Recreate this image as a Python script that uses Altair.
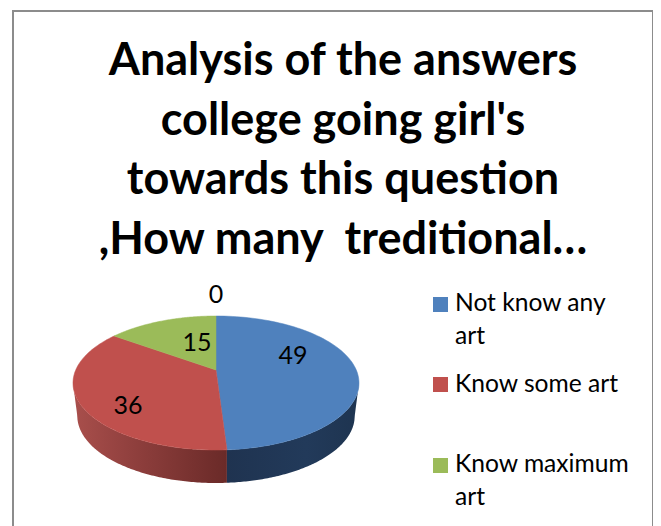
import numpy as np
import pandas as pd
import altair as alt

categories = ["Not know any art", "Know some art", "Know maximum art"]
values = [49, 36, 15]
colors = ["#4f81bd", "#c0504d", "#9bbb59"]
title_lines = ["Analysis of the answers", "college going girl's",
               "towards this question", ",How many\u00a0 treditional\u2026"]
value_labels = ["49", "36", "15", "0"]
label_px = [293, 128, 197, 216]
label_py = [356, 406, 343, 295]
legend_lines = ["Not know any", "art", "Know some art", "Know maximum", "art"]
legend_line_y = [304, 337, 385, 465, 498]
swatch_y = [304.5, 384.5, 465.5]

OX, OY = 13, 11        # page position of the frame
W, H = 640, 516
CX, CY, RX, RY = 216 - OX, 383 - OY, 143, 67
TILT = 0.194           # perspective: how far the pie's centre sits above the ellipse's
DEPTH = 33

xs = alt.Scale(domain=[0, W], range=[0, W])
ys = alt.Scale(domain=[0, H], range=[0, H])
X = lambda f="x": alt.X(f"{f}:Q", scale=xs, axis=None)
Y = lambda f="y": alt.Y(f"{f}:Q", scale=ys, axis=None)


def project(theta, drop=0.0, shrink=1.0):
    sx, sy = np.sin(theta), np.cos(theta)
    d = 1 + TILT * sy
    u = sx * np.sqrt(1 - TILT ** 2) / d
    v = (sy + TILT) / d
    return CX + RX * shrink * u, CY - RY * v + drop


fractions = np.array(values) / sum(values)
ends = np.cumsum(fractions) * 2 * np.pi
starts = ends - fractions * 2 * np.pi

faces = []
apex_x, apex_y = CX, CY - RY * TILT
for cat, a, b in zip(categories, starts, ends):
    th = np.linspace(a, b, 90)
    px, py = project(th)
    fx = [apex_x] + list(px) + [apex_x]
    fy = [apex_y] + list(py) + [apex_y]
    faces.append(pd.DataFrame({"x": fx, "y": fy, "o": range(len(fx)), "cat": cat}))


def side_frame(a, b, inner, outer):
    """Band between the top rim and the rim DEPTH below it, for angles a..b."""
    th = np.linspace(a, b, 120)
    tx, ty = project(th)
    lx, ly = project(th, DEPTH, 0.97)
    nodes = sorted(list(zip(lx, ly)) + [(tx[outer], ty[outer]), (tx[inner], ly[inner])])
    grid = np.sort(tx)
    top = np.interp(grid, *zip(*sorted(zip(tx, ty))))
    low = np.interp(grid, *zip(*nodes))
    return pd.DataFrame({"x": grid, "y": top, "y2": low})


# visible (front) part of each slice's side: from the rim's widest point round to the slice edge
widest = np.arccos(-TILT)
blue_side = side_frame(widest, ends[0], -1, 0)
red_side = side_frame(ends[0], 2 * np.pi - widest, 0, -1)

grad_blue = alt.Gradient(gradient="linear", x1=0, x2=1, y1=0, y2=0, stops=[
    alt.GradientStop(color="#1f3350", offset=0),
    alt.GradientStop(color="#223a5a", offset=0.6),
    alt.GradientStop(color="#1e3450", offset=1)])
grad_red = alt.Gradient(gradient="linear", x1=0, x2=1, y1=0, y2=0, stops=[
    alt.GradientStop(color="#a94f4c", offset=0),
    alt.GradientStop(color="#8f3f3d", offset=0.4),
    alt.GradientStop(color="#6a2a28", offset=1)])

layers = []
layers.append(alt.Chart(red_side).mark_area(color=grad_red).encode(x=X(), y=Y(), y2="y2:Q"))
layers.append(alt.Chart(blue_side).mark_area(color=grad_blue).encode(x=X(), y=Y(), y2="y2:Q"))
for f, col in zip(faces, colors):
    layers.append(alt.Chart(f).mark_line(fill=col, stroke=col, strokeWidth=0.5).encode(
        x=X(), y=Y(), order="o:Q"))

labels = pd.DataFrame({"t": value_labels,
                       "x": np.array(label_px) - OX,
                       "y": np.array(label_py) - OY})
layers.append(alt.Chart(labels).mark_text(font="Lato", fontSize=25, color="#000000",
                                          align="center", baseline="middle").encode(
    x=X(), y=Y(), text="t:N"))

swatches = pd.DataFrame({"cat": categories, "x": 440.5 - OX, "y": np.array(swatch_y) - OY})
layers.append(alt.Chart(swatches).mark_point(shape="square", filled=True, size=225, opacity=1).encode(
    x=X(), y=Y(),
    color=alt.Color("cat:N", scale=alt.Scale(domain=categories, range=colors), legend=None)))

leg = pd.DataFrame({"t": legend_lines, "x": 455 - OX, "y": np.array(legend_line_y) - OY})
layers.append(alt.Chart(leg).mark_text(font="Lato", fontSize=24.6, color="#000000",
                                       align="left", baseline="middle").encode(
    x=X(), y=Y(), text="t:N"))

chart = alt.layer(*layers).properties(
    width=W, height=H,
    padding={"left": 5, "top": 3, "right": 0, "bottom": 0},
    autosize=alt.AutoSizeParams(type="none"),
    title=alt.TitleParams(text=title_lines, font="Lato", fontSize=45, fontWeight="bold",
                          color="#000000", anchor="middle", frame="group", lineHeight=59.6,
                          baseline="top", dx=10, dy=252, offset=0),
).configure_view(stroke="#8c8c8c", strokeWidth=2)

chart.save("out.html", embed_options={"renderer": "svg", "actions": False})
